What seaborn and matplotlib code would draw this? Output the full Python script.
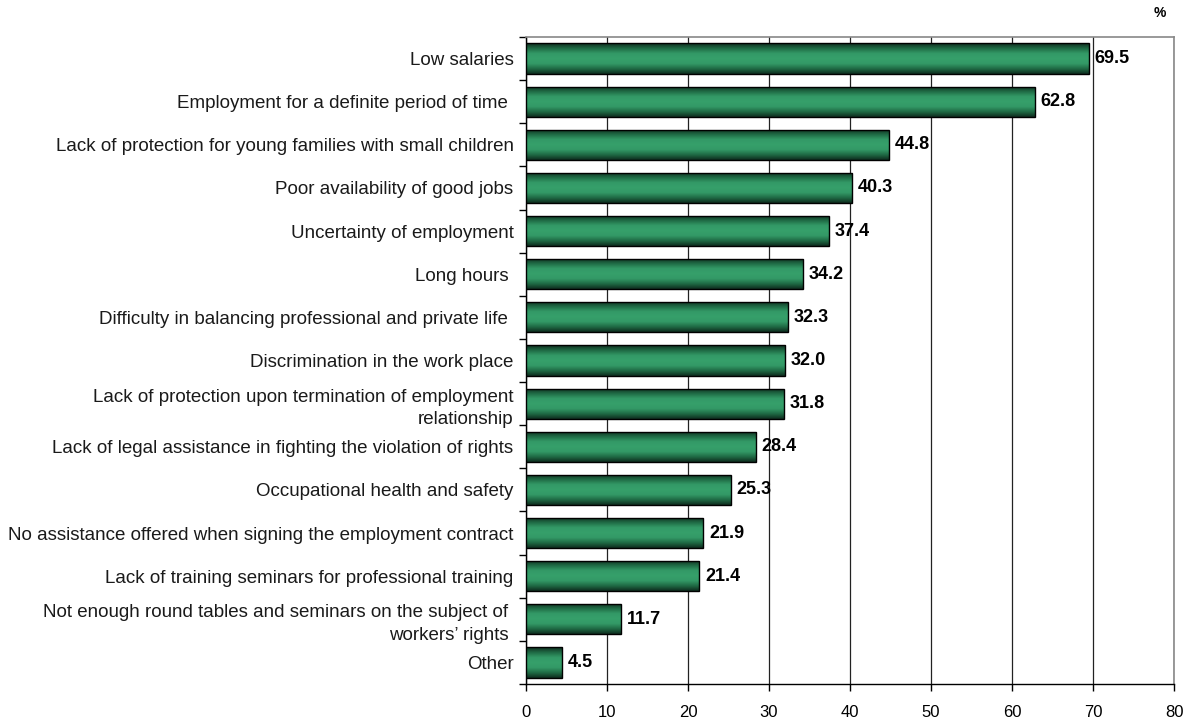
import numpy as np
import pandas as pd
import matplotlib
matplotlib.use("Agg")
import matplotlib.pyplot as plt
from matplotlib.colors import LinearSegmentedColormap
import seaborn as sns

categories = [
    "Low salaries",
    "Employment for a definite period of time ",
    "Lack of protection for young families with small children",
    "Poor availability of good jobs",
    "Uncertainty of employment",
    "Long hours ",
    "Difficulty in balancing professional and private life ",
    "Discrimination in the work place",
    "Lack of protection upon termination of employment\nrelationship",
    "Lack of legal assistance in fighting the violation of rights",
    "Occupational health and safety",
    "No assistance offered when signing the employment contract",
    "Lack of training seminars for professional training",
    "Not enough round tables and seminars on the subject of \nworkers\u2019 rights ",
    "Other",
]
values = [69.5, 62.8, 44.8, 40.3, 37.4, 34.2, 32.3, 32.0, 31.8, 28.4, 25.3, 21.9, 21.4, 11.7, 4.5]
x_ticks = [0, 10, 20, 30, 40, 50, 60, 70, 80]

df = pd.DataFrame({"issue": categories, "pct": values})

sns.set_theme(style="white")
plt.rcParams["font.family"] = ["Liberation Sans", "DejaVu Sans"]

fig = plt.figure(figsize=(11.95, 7.22), dpi=100)
ax = fig.add_axes([526 / 1195, 1 - 684 / 722, (1174 - 526) / 1195, (684 - 37) / 722])

sns.barplot(data=df, y="issue", x="pct", orient="h", ax=ax, width=0.7,
            color="#339966", edgecolor="black", linewidth=1.0, zorder=3)

# shaded fill for each bar: dark at the edges, lighter green in the middle
shade = LinearSegmentedColormap.from_list(
    "bar_shade", ["#0f2e1f", "#1f6b45", "#339966", "#36a06b", "#339966", "#1f6b45", "#0f2e1f"])
grad = np.linspace(0, 1, 64).reshape(-1, 1)
for p in list(ax.patches):
    x0, y0 = p.get_x(), p.get_y()
    w, h = p.get_width(), p.get_height()
    im = ax.imshow(grad, extent=[x0, x0 + w, y0 + h, y0], aspect="auto",
                   cmap=shade, interpolation="bilinear", zorder=3.5)
    im.set_clip_path(p)
    p.set_facecolor("none")
    p.set_zorder(4)

n = len(categories)
ax.set_xlim(0, 80)
ax.set_ylim(n - 0.5, -0.5)
ax.set_xticks(x_ticks)
ax.set_xticklabels([str(t) for t in x_ticks], fontsize=12)
ax.set_xlabel("")
ax.set_ylabel("")

# category labels sit at bar centres; tick marks sit between categories
ax.set_yticks(np.arange(n))
ax.set_yticklabels(categories, fontsize=13.5, multialignment="right", linespacing=1.45)
ax.set_yticks(np.arange(n + 1) - 0.5, minor=True)
ax.tick_params(axis="y", which="major", length=0, pad=9, colors="#1a1a1a")
ax.tick_params(axis="y", which="minor", length=5, width=1, color="black", left=True)
ax.tick_params(axis="x", which="major", length=5, width=1, color="black", bottom=True,
               pad=10, labelcolor="black")

ax.grid(axis="x", color="#222222", linewidth=0.9, zorder=0)
ax.grid(axis="y", visible=False)
ax.set_axisbelow(True)

for side in ["left", "bottom"]:
    ax.spines[side].set_color("black")
    ax.spines[side].set_linewidth(1.0)
for side in ["top", "right"]:
    ax.spines[side].set_color("#888888")
    ax.spines[side].set_linewidth(1.2)

for i, v in enumerate(values):
    ax.text(v + 0.7, i, f"{v:.1f}", va="center", ha="left",
            fontsize=13, fontweight="bold", color="black", zorder=5)

fig.text(1160 / 1195, 1 - 13 / 722, "%", ha="center", va="center",
         fontsize=10, fontweight="bold", color="black")

fig.savefig("out.png", dpi=100)
